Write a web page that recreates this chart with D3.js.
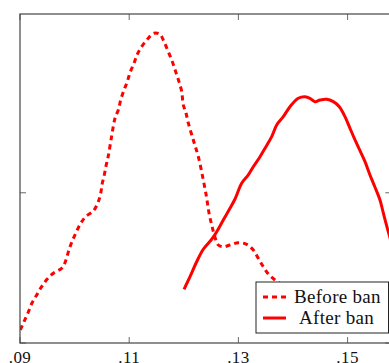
<!DOCTYPE html>
<html>
<head>
<meta charset="utf-8">
<script src="https://cdn.jsdelivr.net/npm/d3@7"></script>
<style>
  html, body { margin: 0; padding: 0; background: #fff; }
  svg { display: block; }
</style>
</head>
<body>
<div id="chart"></div>
<script>
// density estimates: [x, density]
const beforeBan = [
  [0.09006, 1.73], [0.09073, 2.84], [0.09147, 4.03], [0.09220, 5.33], [0.09306, 6.39],
  [0.09397, 7.50], [0.09495, 8.48], [0.09610, 9.28], [0.09769, 9.99], [0.09842, 11.05],
  [0.09892, 12.29], [0.09952, 13.49], [0.10026, 14.69], [0.10112, 15.94], [0.10203, 16.82],
  [0.10342, 17.57], [0.10423, 18.60], [0.10478, 19.93], [0.10507, 21.26], [0.10544, 22.37],
  [0.10575, 23.57], [0.10617, 24.90], [0.10676, 27.43], [0.10740, 29.92], [0.10800, 31.02],
  [0.10844, 32.35], [0.10905, 33.68], [0.10965, 34.79], [0.11015, 35.99], [0.11088, 37.24],
  [0.11148, 38.44], [0.11229, 39.45], [0.11332, 40.43], [0.11454, 41.23], [0.11564, 41.10],
  [0.11637, 40.11], [0.11716, 38.78], [0.11797, 37.32], [0.11857, 35.99], [0.11912, 34.79],
  [0.11962, 33.46], [0.11991, 31.69], [0.12040, 30.62], [0.12082, 29.29], [0.12174, 27.03],
  [0.12266, 24.80], [0.12357, 21.70], [0.12419, 19.31], [0.12462, 17.31], [0.12511, 15.71],
  [0.12559, 14.38], [0.12632, 13.05], [0.12723, 12.82], [0.12846, 13.05], [0.12998, 13.35],
  [0.13152, 13.14], [0.13273, 12.38], [0.13364, 11.28], [0.13456, 10.16], [0.13548, 9.19],
  [0.13670, 8.39], [0.13799, 7.72], [0.13950, 7.00], [0.14100, 6.40]
];

const afterBan = [
  [0.12004, 7.15], [0.12114, 8.83], [0.12236, 10.82], [0.12357, 12.48], [0.12511, 13.81],
  [0.12603, 14.82], [0.12723, 16.38], [0.12846, 17.93], [0.12938, 19.17], [0.13060, 21.26],
  [0.13181, 22.37], [0.13273, 23.47], [0.13396, 24.80], [0.13505, 26.14], [0.13610, 27.47],
  [0.13701, 29.02], [0.13822, 30.13], [0.13945, 31.46], [0.14097, 32.58], [0.14220, 32.79],
  [0.14311, 32.58], [0.14403, 32.13], [0.14495, 32.35], [0.14617, 32.45], [0.14738, 32.13],
  [0.14848, 31.46], [0.14952, 30.13], [0.15044, 28.58], [0.15136, 27.03], [0.15227, 25.60],
  [0.15319, 24.14], [0.15410, 22.37], [0.15502, 20.73], [0.15593, 19.04], [0.15654, 17.31],
  [0.15745, 14.82], [0.15868, 11.72]
];

const xTicks = [0.09, 0.11, 0.13, 0.15];
const yTicks = [0, 20];
const seriesNames = ["Before ban", "After ban"];

const W = 389, H = 363;
const mLeft = 20, mTop = 14, mBottom = 343;

const x = d3.scaleLinear().domain([0.09, 0.158]).range([mLeft, mLeft + 0.068 * 5460]);
const y = d3.scaleLinear().domain([0, 43.8]).range([mBottom, mTop]);
const mRight = x.range()[1];

const svg = d3.select("#chart").append("svg")
  .attr("width", W).attr("height", H);

svg.append("defs").append("clipPath").attr("id", "plot")
  .append("rect")
  .attr("x", mLeft).attr("y", mTop)
  .attr("width", mRight - mLeft).attr("height", mBottom - mTop);

const axisColor = "#444";

// ticks, inside, mirrored top/bottom and left/right
xTicks.forEach((t) => {
  svg.append("line")
    .attr("x1", x(t)).attr("x2", x(t))
    .attr("y1", mBottom).attr("y2", mBottom - 6)
    .attr("stroke", axisColor).attr("stroke-width", 0.8);
  svg.append("line")
    .attr("x1", x(t)).attr("x2", x(t))
    .attr("y1", mTop).attr("y2", mTop + 6)
    .attr("stroke", axisColor).attr("stroke-width", 0.8);
  svg.append("text")
    .attr("x", x(t)).attr("y", 363)
    .attr("text-anchor", "middle")
    .attr("font-family", "'Liberation Serif', serif")
    .attr("font-size", "17px")
    .attr("letter-spacing", "0.4px")
    .attr("fill", "#111")
    .text(d3.format(".2f")(t).replace(/^0/, ""));
});

yTicks.forEach((t) => {
  svg.append("line")
    .attr("x1", mLeft).attr("x2", mLeft + 6)
    .attr("y1", y(t)).attr("y2", y(t))
    .attr("stroke", axisColor).attr("stroke-width", 0.8);
  svg.append("line")
    .attr("x1", mRight).attr("x2", mRight - 6)
    .attr("y1", y(t)).attr("y2", y(t))
    .attr("stroke", axisColor).attr("stroke-width", 0.8);
});

// curves
const line = d3.line()
  .x((d) => x(d[0]))
  .y((d) => y(d[1]))
  .curve(d3.curveCatmullRom.alpha(0.5));

const plot = svg.append("g").attr("clip-path", "url(#plot)");

plot.append("path")
  .datum(beforeBan)
  .attr("fill", "none")
  .attr("stroke", "#ff0000")
  .attr("stroke-width", 3)
  .attr("stroke-dasharray", "5,4")
  .attr("d", line);

plot.append("path")
  .datum(afterBan)
  .attr("fill", "none")
  .attr("stroke", "#ff0000")
  .attr("stroke-width", 3)
  .attr("stroke-linejoin", "round")
  .attr("d", line);

// axis frame
svg.append("rect")
  .attr("x", mLeft).attr("y", mTop)
  .attr("width", mRight - mLeft).attr("height", mBottom - mTop)
  .attr("fill", "none")
  .attr("stroke", axisColor).attr("stroke-width", 1.2);

// legend
const lg = svg.append("g");
lg.append("rect")
  .attr("x", 256).attr("y", 282)
  .attr("width", 132.5).attr("height", 51)
  .attr("fill", "#fff")
  .attr("stroke", "#222").attr("stroke-width", 1);

seriesNames.forEach((name, i) => {
  const cy = 297 + i * 21;
  lg.append("line")
    .attr("x1", 263).attr("x2", 286)
    .attr("y1", cy).attr("y2", cy)
    .attr("stroke", "#ff0000").attr("stroke-width", 3)
    .attr("stroke-dasharray", i === 0 ? "5,4" : null);
  lg.append("text")
    .attr("x", i === 0 ? 294 : 299).attr("y", cy + 5.5)
    .attr("font-family", "'Liberation Serif', serif")
    .attr("font-size", "19px")
    .attr("letter-spacing", "0.3px")
    .attr("fill", "#111")
    .text(name);
});
</script>
</body>
</html>
